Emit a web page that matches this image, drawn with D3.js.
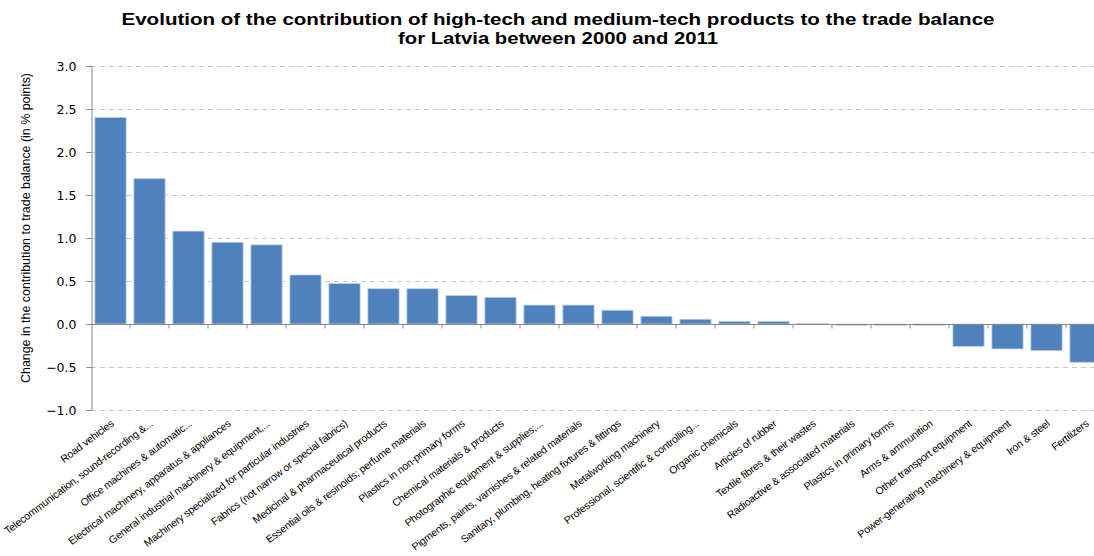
<!DOCTYPE html>
<html><head><meta charset="utf-8">
<script src="https://cdn.jsdelivr.net/npm/d3@7"></script>
<style>body{margin:0;background:#fff;} svg{display:block;}</style>
</head><body>
<svg id="chart" width="1094" height="556"></svg>
<script>
const categories = [
  "Road vehicles",
  "Telecommunication, sound-recording &...",
  "Office machines & automatic...",
  "Electrical machinery, apparatus & appliances",
  "General industrial machinery & equipment,...",
  "Machinery specialized for particular industries",
  "Fabrics (not narrow or special fabrics)",
  "Medicinal & pharmaceutical products",
  "Essential oils & resinoids; perfume materials",
  "Plastics in non-primary forms",
  "Chemical materials & products",
  "Photographic equipment & supplies;...",
  "Pigments, paints, varnishes & related materials",
  "Sanitary, plumbing, heating fixtures & fittings",
  "Metalworking machinery",
  "Professional, scientific & controlling...",
  "Organic chemicals",
  "Articles of rubber",
  "Textile fibres & their wastes",
  "Radioactive & associated materials",
  "Plastics in primary forms",
  "Arms & ammunition",
  "Other transport equipment",
  "Power-generating machinery & equipment",
  "Iron & steel",
  "Fertilizers"
];
const values = [2.40, 1.69, 1.08, 0.95, 0.92, 0.57, 0.47, 0.41, 0.41, 0.33, 0.31, 0.22, 0.22, 0.16, 0.09, 0.055, 0.03, 0.03, 0.005, -0.015, -0.015, -0.015, -0.26, -0.29, -0.31, -0.445];
const yTicks = [-1.0, -0.5, 0.0, 0.5, 1.0, 1.5, 2.0, 2.5, 3.0];
const titleLines = ["Evolution of the contribution of high-tech and medium-tech products to the trade balance", "for Latvia between 2000 and 2011"];
const yTitle = "Change in the contribution to trade balance (in % points)";

const svg = d3.select("#chart");
const x = d3.scaleBand().domain(categories).range([91, 1105]).paddingInner(0.2).paddingOuter(0.1);
const y = d3.scaleLinear().domain([-1, 3]).range([410, 66]);

// gridlines
svg.append("g").selectAll("line").data(yTicks.filter(d => d !== 0)).join("line")
  .attr("x1", 91).attr("x2", 1094)
  .attr("y1", d => Math.round(y(d)) + 0.5).attr("y2", d => Math.round(y(d)) + 0.5)
  .attr("stroke", "#c8c8c8").attr("stroke-dasharray", "5,4").attr("stroke-width", 1);

// bars
svg.append("g").selectAll("rect").data(values).join("rect")
  .attr("x", (d, i) => x(categories[i]))
  .attr("width", x.bandwidth())
  .attr("y", d => y(Math.max(0, d)))
  .attr("height", d => Math.abs(y(d) - y(0)))
  .attr("fill", "#4F81BD")
  .attr("stroke", "#bccde6").attr("stroke-width", 0.8);

// y axis
const yAxis = d3.axisLeft(y).tickValues(yTicks).tickFormat(d3.format(".1f")).tickSize(5).tickPadding(10);
const ga = svg.append("g").attr("transform", "translate(91.5,0)").call(yAxis);
ga.select(".domain").attr("stroke", "#888");
ga.selectAll(".tick line").attr("stroke", "#888");
ga.selectAll("text").attr("font-family", "DejaVu Sans, Verdana, sans-serif").attr("font-size", "12.5px").attr("fill", "#000");

// zero line with category ticks
const gx = svg.append("g").attr("transform", `translate(0,${Math.round(y(0)) + 0.5})`);
gx.append("line").attr("x1", 91).attr("x2", 1094).attr("stroke", "#888").attr("stroke-width", 1);
const step = x.step();
const bounds = d3.range(categories.length + 1).map(i => x(categories[0]) - x.paddingOuter() * step + i * step);
gx.selectAll("line.tk").data(bounds.slice(1)).join("line").attr("class", "tk")
  .attr("x1", d => d).attr("x2", d => d).attr("y1", 0).attr("y2", 4).attr("stroke", "#888");

// x labels
svg.append("g").selectAll("text").data(categories).join("text")
  .attr("transform", d => `translate(${x(d) + x.bandwidth() / 2 + 4},${425}) rotate(-37)`)
  .attr("text-anchor", "end")
  .attr("font-family", "Liberation Sans, Arial, sans-serif")
  .attr("font-size", "10.5px")
  .attr("letter-spacing", "-0.2px")
  .attr("fill", "#000")
  .text(d => d);

// y title
svg.append("text")
  .attr("transform", "translate(30,228) rotate(-90)")
  .attr("text-anchor", "middle")
  .attr("font-family", "Liberation Sans, Arial, sans-serif")
  .attr("font-size", "12px")
  .attr("textLength", 310).attr("lengthAdjust", "spacingAndGlyphs")
  .text(yTitle);

// title
const tt = svg.append("g");
const titleWidths = [873, 320];
titleLines.forEach((t, i) => {
  tt.append("text").attr("x", 558).attr("y", 25 + i * 19)
    .attr("text-anchor", "middle")
    .attr("font-family", "Liberation Sans, Arial, sans-serif")
    .attr("font-weight", "bold").attr("font-size", "16.5px")
    .attr("textLength", titleWidths[i]).attr("lengthAdjust", "spacingAndGlyphs")
    .text(t);
});
</script>
</body></html>
